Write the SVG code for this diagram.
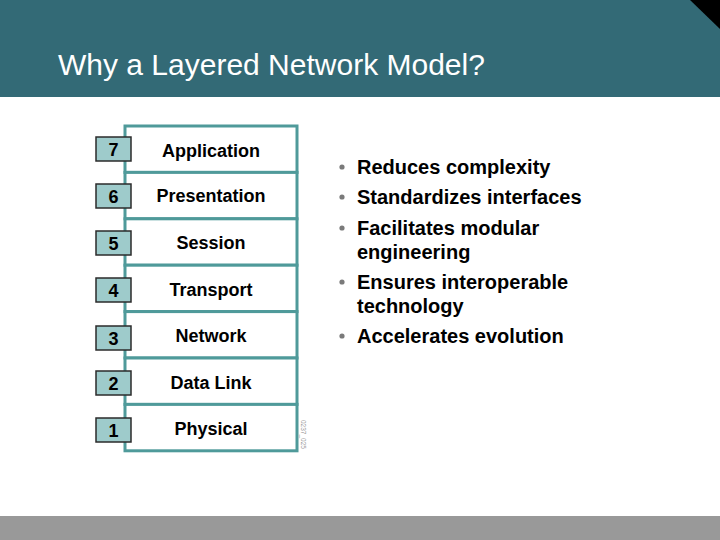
<svg xmlns="http://www.w3.org/2000/svg" width="720" height="540" viewBox="0 0 720 540">
<style>
.title{font-family:"Liberation Sans",Arial,sans-serif;font-size:30px;fill:#ffffff}
.row{fill:#ffffff;stroke:#4f9a9a;stroke-width:3}
.num{fill:#9ecbcb;stroke:#2b2b2b;stroke-width:1.5}
.numt{font-family:"Liberation Sans",Arial,sans-serif;font-size:18px;font-weight:bold;fill:#000;text-anchor:middle}
.lbl{font-family:"Liberation Sans",Arial,sans-serif;font-size:18px;font-weight:bold;fill:#000;text-anchor:middle}
.bul{font-family:"Liberation Sans",Arial,sans-serif;font-size:20px;font-weight:bold;fill:#000}
.dot{fill:#7a7a7a}
</style>
<rect x="0" y="0" width="720" height="540" fill="#ffffff"/>
<g id="header">
<rect x="0" y="0" width="720" height="97" fill="#336a76"/>
<polygon points="690,0 720,0 720,29" fill="#000000"/>
<text class="title" x="58" y="75">Why a Layered Network Model?</text>
</g>
<rect x="0" y="516" width="720" height="24" fill="#999999"/>
<g id="stack">
<g id="layer7"><rect class="row" x="125" y="126" width="172" height="46.4"/><rect class="num" x="96" y="137" width="35" height="24"/><text class="numt" x="113.5" y="156">7</text><text class="lbl" x="211" y="157">Application</text></g>
<g id="layer6"><rect class="row" x="125" y="172.4" width="172" height="46.4"/><rect class="num" x="96" y="184" width="35" height="24"/><text class="numt" x="113.5" y="203">6</text><text class="lbl" x="211" y="202">Presentation</text></g>
<g id="layer5"><rect class="row" x="125" y="218.8" width="172" height="46.4"/><rect class="num" x="96" y="231" width="35" height="24"/><text class="numt" x="113.5" y="250">5</text><text class="lbl" x="211" y="249">Session</text></g>
<g id="layer4"><rect class="row" x="125" y="265.2" width="172" height="46.4"/><rect class="num" x="96" y="278" width="35" height="24"/><text class="numt" x="113.5" y="297">4</text><text class="lbl" x="211" y="296">Transport</text></g>
<g id="layer3"><rect class="row" x="125" y="311.6" width="172" height="46.4"/><rect class="num" x="96" y="326" width="35" height="24"/><text class="numt" x="113.5" y="345">3</text><text class="lbl" x="211" y="342">Network</text></g>
<g id="layer2"><rect class="row" x="125" y="358" width="172" height="46.4"/><rect class="num" x="96" y="371" width="35" height="24"/><text class="numt" x="113.5" y="390">2</text><text class="lbl" x="211" y="389">Data Link</text></g>
<g id="layer1"><rect class="row" x="125" y="404.4" width="172" height="46.4"/><rect class="num" x="96" y="418" width="35" height="24"/><text class="numt" x="113.5" y="437">1</text><text class="lbl" x="211" y="435">Physical</text></g>
<text x="301" y="420" transform="rotate(90 301 420)" font-family="Liberation Sans,Arial,sans-serif" font-size="6.5" fill="#999999">0237_025</text>
</g>
<g id="bullets">
<circle class="dot" cx="342" cy="167" r="2.6"/><text class="bul" x="357" y="174">Reduces complexity</text>
<circle class="dot" cx="342" cy="197" r="2.6"/><text class="bul" x="357" y="204">Standardizes interfaces</text>
<circle class="dot" cx="342" cy="228" r="2.6"/><text class="bul" x="357" y="235">Facilitates modular</text>
<text class="bul" x="357" y="259">engineering</text>
<circle class="dot" cx="342" cy="282" r="2.6"/><text class="bul" x="357" y="289">Ensures interoperable</text>
<text class="bul" x="357" y="313">technology</text>
<circle class="dot" cx="342" cy="336" r="2.6"/><text class="bul" x="357" y="343">Accelerates evolution</text>
</g>
</svg>
